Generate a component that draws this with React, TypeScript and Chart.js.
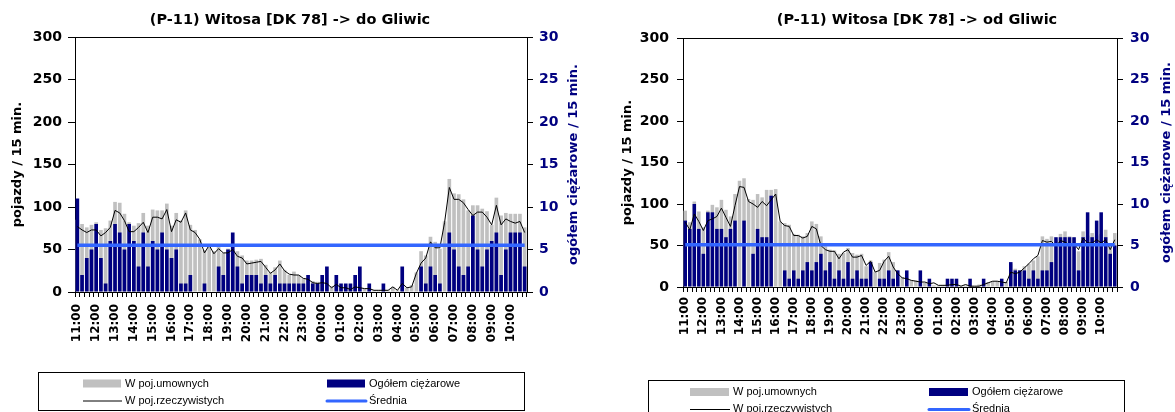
import React, { useEffect, useRef } from 'react';
import { Chart, registerables } from 'chart.js';

Chart.register(...registerables);

// ---------- data ----------
const hourLabels = ['11:00', '12:00', '13:00', '14:00', '15:00', '16:00', '17:00', '18:00', '19:00', '20:00', '21:00', '22:00',
  '23:00', '00:00', '01:00', '02:00', '03:00', '04:00', '05:00', '06:00', '07:00', '08:00', '09:00', '10:00'];
const quarterSuffixes = [':00', ':15', ':30', ':45'];
const categories = hourLabels.flatMap((h) => quarterSuffixes.map((q) => h.slice(0, 2) + q));

const legendLabels = ['W poj.umownych', 'Ogółem ciężarowe', 'W poj.rzeczywistych', 'Średnia'];

// (P-11) Witosa [DK 78] -> do Gliwic
const doTitle = '(P-11) Witosa [DK 78] -> do Gliwic';
const doUmowne = [85, 80, 76, 79, 82, 73, 75, 84, 106, 105, 92, 82, 78, 81, 93, 78, 97, 96, 96, 104, 78, 93, 84, 96,
  79, 73, 62, 49, 55, 48, 53, 46, 51, 50, 48, 43, 37, 37, 38, 39, 32, 23, 29, 37, 26, 20, 24, 20,
  16, 15, 13, 12, 11, 10, 7, 9, 7, 6, 4, 6, 5, 4, 3, 2, 2, 3, 2, 6, 2, 10, 5, 8,
  23, 48, 43, 65, 59, 51, 83, 133, 116, 115, 109, 96, 102, 102, 98, 95, 79, 111, 90, 93, 92, 92, 92, 76];
const doRzeczywiste = [77, 73, 70, 73, 73, 66, 70, 76, 96, 93, 84, 71, 71, 76, 82, 70, 88, 88, 86, 97, 71, 85, 82, 93,
  73, 70, 62, 46, 55, 45, 51, 46, 46, 50, 42, 40, 33, 34, 35, 36, 29, 22, 26, 33, 25, 21, 20, 20,
  16, 15, 11, 10, 11, 10, 5, 9, 5, 5, 3, 6, 5, 4, 4, 2, 2, 2, 2, 6, 2, 10, 5, 6,
  22, 34, 40, 59, 52, 52, 82, 123, 109, 109, 105, 97, 90, 94, 94, 88, 79, 102, 79, 86, 83, 81, 83, 70];
const doCiezarowe = [11, 2, 4, 5, 8, 4, 1, 6, 8, 7, 5, 8, 6, 3, 7, 3, 6, 5, 7, 5, 4, 5, 1, 1,
  2, 0, 0, 1, 0, 0, 3, 2, 5, 7, 3, 1, 2, 2, 2, 1, 2, 1, 2, 1, 1, 1, 1, 1,
  1, 2, 1, 1, 2, 3, 0, 2, 1, 1, 1, 2, 3, 0, 1, 0, 0, 1, 0, 0, 0, 3, 0, 0,
  0, 3, 1, 3, 2, 1, 0, 7, 5, 3, 2, 3, 9, 5, 3, 5, 6, 7, 2, 5, 7, 7, 7, 3];
const doSrednia = 55;

// (P-11) Witosa [DK 78] -> od Gliwic
const odTitle = '(P-11) Witosa [DK 78] -> od Gliwic';
const odUmowne = [92, 78, 103, 91, 72, 92, 99, 96, 105, 93, 85, 112, 128, 131, 106, 105, 112, 108, 117, 117, 118, 79, 77, 75,
  64, 63, 61, 65, 79, 76, 61, 49, 45, 44, 40, 41, 47, 41, 39, 40, 25, 32,
  18, 29, 33, 42, 30, 20, 12, 11, 8, 8, 6, 5, 5, 2, 2, 2, 4, 4, 2, 1, 2, 1, 1, 3, 4, 6, 7, 7, 6, 6,
  28, 22, 20, 25, 28, 32, 37, 61, 58, 61, 57, 64, 67, 61, 59, 43, 67, 62, 65, 62, 64, 69, 52, 65];
const odRzeczywiste = [78, 69, 88, 79, 68, 80, 82, 85, 95, 84, 73, 98, 121, 120, 103, 100, 96, 103, 98, 105, 112, 79, 74, 73,
  62, 62, 59, 61, 73, 70, 50, 45, 43, 43, 34, 42, 45, 36, 36, 38, 26, 31, 18, 20, 31, 37, 24, 16,
  11, 10, 8, 7, 6, 6, 4, 5, 2, 2, 2, 3, 3, 1, 3, 1, 1, 1, 3, 5, 7, 7, 6, 5,
  18, 16, 18, 23, 28, 34, 38, 56, 54, 55, 49, 56, 54, 51, 52, 45, 59, 53, 53, 57, 53, 57, 45, 57];
const odCiezarowe = [8, 7, 10, 7, 4, 9, 9, 7, 7, 6, 7, 8, 0, 8, 0, 4, 7, 6, 6, 11, 0, 0, 2, 1,
  2, 1, 2, 3, 2, 3, 4, 2, 3, 1, 2, 1, 3, 1, 2, 1, 1, 3, 0, 1, 1, 2, 1, 2,
  0, 2, 0, 0, 2, 0, 1, 0, 0, 0, 1, 1, 1, 0, 0, 1, 0, 0, 1, 0, 0, 0, 1, 0,
  3, 2, 2, 2, 1, 2, 1, 2, 2, 3, 6, 6, 6, 6, 6, 2, 6, 9, 6, 8, 9, 6, 4, 5];
const odSrednia = 51;

// ---------- styles ----------
const GRAY = '#C0C0C0';
const NAVY = '#000080';
const BLUE = '#3366FF';
const BOLD_FONT = '"DejaVu Sans", sans-serif';
const LEGEND_FONT = '11px "Liberation Sans", Arial, sans-serif';

type Layout = {
  width: number;
  padTop: number;
  padBottom: number;
  yWidth: number;
  y2Width: number;
  xHeight: number;
  yTick: number;
  yPad: number;
  yTitlePad: number;
  y2Pad: number;
  xPad: number;
  titleX: number;
  rightTitleX: number;
  legendBox: { x: number; y: number; w: number; h: number };
  col1: number;
  col2: number;
  swatchW: number;
  row1: number;
  row2: number;
};

const decorPlugin = {
  id: 'decor',
  afterDraw(chart: any, _args: any, opts: any) {
    const ctx: CanvasRenderingContext2D = chart.ctx;
    const ca = chart.chartArea;
    const L: Layout = opts.layout;
    ctx.save();
    // top frame line
    ctx.strokeStyle = '#000';
    ctx.lineWidth = 1;
    ctx.beginPath();
    ctx.moveTo(ca.left, Math.round(ca.top) + 0.5);
    ctx.lineTo(ca.right, Math.round(ca.top) + 0.5);
    ctx.stroke();

    // chart title
    ctx.fillStyle = '#000';
    ctx.font = `bold 14.5px ${BOLD_FONT}`;
    ctx.textAlign = 'center';
    ctx.textBaseline = 'middle';
    ctx.fillText(opts.title, L.titleX, 20);

    // right axis title (reads bottom to top)
    ctx.save();
    ctx.translate(L.rightTitleX, (ca.top + ca.bottom) / 2);
    ctx.rotate(-Math.PI / 2);
    ctx.fillStyle = NAVY;
    ctx.font = `bold 13px ${BOLD_FONT}`;
    ctx.fillText(opts.rightTitle, 0, 0);
    ctx.restore();

    // legend box
    const b = L.legendBox;
    ctx.strokeStyle = '#000';
    ctx.lineWidth = 1;
    ctx.strokeRect(b.x + 0.5, b.y + 0.5, b.w, b.h);
    const ds = chart.data.datasets;
    const items = [
      { ds: ds[0], kind: 'box', x: L.col1, y: L.row1 },
      { ds: ds[1], kind: 'box', x: L.col2, y: L.row1 },
      { ds: ds[2], kind: 'line', x: L.col1, y: L.row2 },
      { ds: ds[3], kind: 'line', x: L.col2, y: L.row2 },
    ];
    ctx.font = LEGEND_FONT;
    ctx.textAlign = 'left';
    ctx.textBaseline = 'middle';
    for (const it of items) {
      if (it.kind === 'box') {
        ctx.fillStyle = it.ds.backgroundColor;
        ctx.fillRect(it.x, it.y - 4, L.swatchW, 8);
      } else {
        ctx.strokeStyle = it.ds.borderColor;
        ctx.lineWidth = it.ds.borderWidth >= 3 ? 3 : 1;
        ctx.lineCap = it.ds.borderWidth >= 3 ? 'round' : 'butt';
        ctx.beginPath();
        ctx.moveTo(it.x, it.y + 0.5);
        ctx.lineTo(it.x + L.swatchW + 1, it.y + 0.5);
        ctx.stroke();
      }
      ctx.fillStyle = '#000';
      ctx.fillText(it.ds.label, it.x + L.swatchW + 4, it.y);
    }
    ctx.restore();
  },
};

function makeConfig(title: string, umowne: number[], rzecz: number[], ciez: number[], avg: number, L: Layout): any {
  return {
    type: 'bar',
    data: {
      labels: categories,
      datasets: [
        {
          type: 'bar', label: legendLabels[0], data: umowne, yAxisID: 'y',
          backgroundColor: GRAY, borderWidth: 0, grouped: false, order: 3,
          barPercentage: 0.78, categoryPercentage: 1,
        },
        {
          type: 'bar', label: legendLabels[1], data: ciez, yAxisID: 'y2',
          backgroundColor: NAVY, borderWidth: 0, grouped: false, order: 2,
          barPercentage: 0.78, categoryPercentage: 1,
        },
        {
          type: 'line', label: legendLabels[2], data: rzecz, yAxisID: 'y',
          borderColor: '#000', borderWidth: 1, pointRadius: 0, tension: 0, order: 1,
        },
        {
          type: 'line', label: legendLabels[3], data: categories.map(() => avg), yAxisID: 'y',
          borderColor: BLUE, borderWidth: 3.5, pointRadius: 0, tension: 0, order: 0,
        },
      ],
    },
    options: {
      animation: false,
      responsive: false,
      devicePixelRatio: 1,
      layout: { padding: { top: L.padTop, bottom: L.padBottom, left: 0, right: 0 } },
      plugins: {
        legend: { display: false },
        tooltip: { enabled: false },
        title: { display: false },
        decor: { title, rightTitle: 'ogółem ciężarowe / 15 min.', layout: L },
      },
      scales: {
        x: {
          type: 'category',
          offset: true,
          grid: { offset: true, drawOnChartArea: false, drawTicks: true, tickLength: 5, color: '#000' },
          border: { display: true, color: '#000', width: 1 },
          ticks: {
            autoSkip: false,
            maxRotation: 90,
            minRotation: 90,
            padding: L.xPad,
            color: '#000',
            font: { family: BOLD_FONT, size: 12, weight: 'bold' },
            callback: (_v: any, i: number) => (i % 4 === 0 ? hourLabels[i / 4] : ''),
          },
          afterFit: (s: any) => { s.height = L.xHeight; },
        },
        y: {
          position: 'left',
          min: 0,
          max: 300,
          grid: { drawOnChartArea: false, drawTicks: true, tickLength: L.yTick, color: '#000' },
          border: { display: true, color: '#000', width: 1 },
          ticks: {
            stepSize: 50,
            padding: L.yPad,
            color: '#000',
            font: { family: BOLD_FONT, size: 14, weight: 'bold' },
          },
          title: {
            display: true,
            text: 'pojazdy / 15 min.',
            color: '#000',
            font: { family: BOLD_FONT, size: 13, weight: 'bold' },
            padding: { top: L.yTitlePad, bottom: 0 },
          },
          afterFit: (s: any) => { s.width = L.yWidth; },
        },
        y2: {
          position: 'right',
          min: 0,
          max: 30,
          grid: { drawOnChartArea: false, drawTicks: true, tickLength: 6, color: '#000' },
          border: { display: true, color: '#000', width: 1 },
          ticks: {
            stepSize: 5,
            padding: L.y2Pad,
            color: NAVY,
            font: { family: BOLD_FONT, size: 14, weight: 'bold' },
          },
          afterFit: (s: any) => { s.width = L.y2Width; },
        },
      },
    },
    plugins: [decorPlugin],
  };
}

const leftLayout: Layout = {
  width: 580, padTop: 37, padBottom: 40, yWidth: 75, y2Width: 53, xHeight: 80,
  yTick: 7, yPad: 6, yTitlePad: 10, y2Pad: 6, xPad: 7,
  titleX: 290, rightTitleX: 574,
  legendBox: { x: 38, y: 372, w: 486, h: 38 },
  col1: 83, col2: 327, swatchW: 38, row1: 383.5, row2: 400.5,
};

const rightLayout: Layout = {
  width: 565, padTop: 38, padBottom: 45, yWidth: 73, y2Width: 58, xHeight: 80,
  yTick: 6, yPad: 8, yTitlePad: 10, y2Pad: 7, xPad: 5,
  titleX: 307, rightTitleX: 557,
  legendBox: { x: 38, y: 380, w: 476, h: 40 },
  col1: 80, col2: 319, swatchW: 39, row1: 392, row2: 409,
};

export default function App() {
  const leftRef = useRef<HTMLCanvasElement | null>(null);
  const rightRef = useRef<HTMLCanvasElement | null>(null);

  useEffect(() => {
    const c1 = new Chart(leftRef.current as HTMLCanvasElement,
      makeConfig(doTitle, doUmowne, doRzeczywiste, doCiezarowe, doSrednia, leftLayout));
    const c2 = new Chart(rightRef.current as HTMLCanvasElement,
      makeConfig(odTitle, odUmowne, odRzeczywiste, odCiezarowe, odSrednia, rightLayout));
    return () => {
      c1.destroy();
      c2.destroy();
    };
  }, []);

  return (
    <div style={{ position: 'fixed', left: 0, top: 0, width: 1175, height: 412, background: '#fff', overflow: 'hidden' }}>
      <canvas ref={leftRef} width={580} height={412}
        style={{ position: 'absolute', left: 0, top: 0, width: 580, height: 412 }} />
      <canvas ref={rightRef} width={565} height={412}
        style={{ position: 'absolute', left: 610, top: 0, width: 565, height: 412 }} />
    </div>
  );
}
